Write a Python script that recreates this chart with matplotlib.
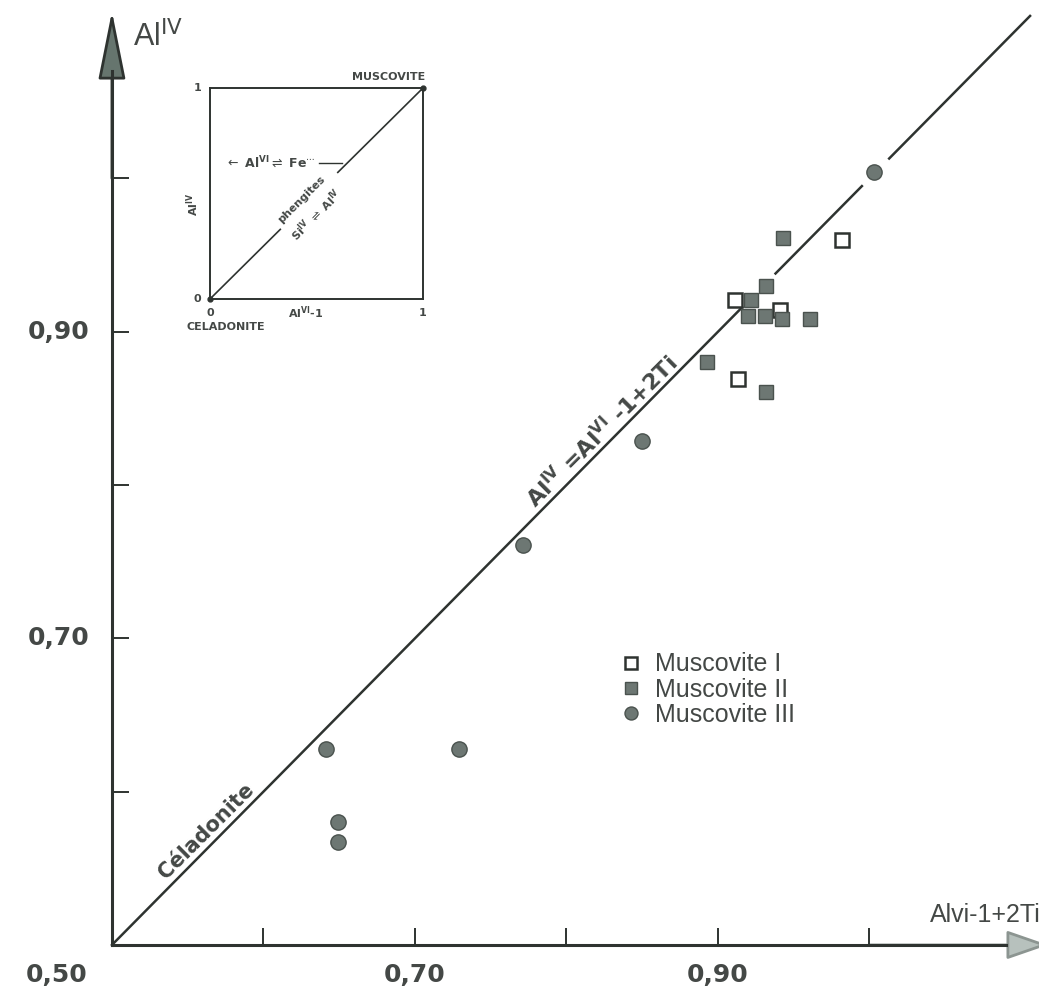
import numpy as np
import matplotlib
matplotlib.use("Agg")
import matplotlib.pyplot as plt
from matplotlib.patches import FancyArrowPatch

plt.rcParams['mathtext.fontset'] = 'dejavusans'

# Muscovite I (open squares)
mus1_x = [0.982, 0.911, 0.941, 0.913]
mus1_y = [0.960, 0.921, 0.914, 0.869]

# Muscovite II (filled squares)
mus2_x = [0.943, 0.932, 0.922, 0.920, 0.931, 0.942, 0.961, 0.893, 0.932]
mus2_y = [0.961, 0.930, 0.921, 0.910, 0.910, 0.908, 0.908, 0.880, 0.861]

# Muscovite III (circles)
mus3_x = [1.003, 0.850, 0.771, 0.641, 0.729, 0.649, 0.649]
mus3_y = [1.004, 0.829, 0.761, 0.628, 0.628, 0.580, 0.567]

series_labels = ["Muscovite I", "Muscovite II", "Muscovite III"]
x_ticks = [0.6, 0.7, 0.8, 0.9, 1.0]
y_ticks = [0.6, 0.7, 0.8, 0.9, 1.0]
x_ticklabels = {0.5: "0,50", 0.7: "0,70", 0.9: "0,90"}
y_ticklabels = {0.7: "0,70", 0.9: "0,90"}

INK = '#2e3330'
TXT = '#444846'
GREY = '#6d7773'

fig = plt.figure(figsize=(10.39, 9.94), dpi=100)
ax = fig.add_axes([0, 0, 1, 1])
ax.set_xlim(0.4261, 1.1119)
ax.set_ylim(0.468, 1.1164)

# axes drawn as spines crossing at (0.5, 0.5)
for s in ['top', 'right']:
    ax.spines[s].set_visible(False)
ax.spines['left'].set_position(('data', 0.5))
ax.spines['bottom'].set_position(('data', 0.5))
ax.spines['left'].set_bounds(0.5, 1.07)
ax.spines['bottom'].set_bounds(0.5, 1.09)
for s in ['left', 'bottom']:
    ax.spines[s].set_linewidth(2.2)
    ax.spines[s].set_color(INK)
ax.set_xticks(x_ticks)
ax.set_yticks(y_ticks)
ax.tick_params(direction='in', length=12, width=1.4, color=INK,
               labelbottom=False, labelleft=False)

# arrow heads
ax.add_patch(FancyArrowPatch((0.5, 1.0), (0.5, 1.109),
                             arrowstyle='-|>,head_length=43,head_width=8.6',
                             mutation_scale=1, fc='#66756e', ec=INK, lw=2.0,
                             shrinkA=0, shrinkB=0))
ax.add_patch(FancyArrowPatch((1.0, 0.5), (1.118, 0.5),
                             arrowstyle='-|>,head_length=26,head_width=9',
                             mutation_scale=1, fc='#b7c1bd', ec='#8c9591', lw=2.0,
                             shrinkA=0, shrinkB=0, clip_on=False))

# tick labels
for v, s in x_ticklabels.items():
    xpos = 0.4637 if v == 0.5 else v
    ax.text(xpos, 0.4804, s, ha='center', va='center', fontsize=18,
            fontweight='bold', color=TXT)
for v, s in y_ticklabels.items():
    ax.text(0.465, v, s, ha='center', va='center', fontsize=18,
            fontweight='bold', color=TXT)

# axis titles
ax.text(0.514, 1.086, r'Al$^{\mathrm{IV}}$', fontsize=22, color=TXT,
        family='Liberation Sans', va='baseline')
ax.text(1.040, 0.5196, 'Alvi-1+2Ti', fontsize=18, color=TXT,
        family='Liberation Sans', va='center', ha='left')

# 1:1 line (with gaps as in original drawing)
line_x = np.array([0.5, 0.916, np.nan, 0.938, 0.995, np.nan, 1.013, 1.106])
ax.plot(line_x, line_x, color=INK, lw=1.8, zorder=2)

ax.text(0.823, 0.835, r'Al$^{\mathbf{IV}}$ =Al$^{\mathbf{VI}}$ -1+2Ti',
        rotation=45, rotation_mode='anchor', ha='center', va='center',
        fontsize=16, fontweight='bold', color=TXT)
ax.text(0.562, 0.574, 'Céladonite', rotation=45, rotation_mode='anchor',
        ha='center', va='center', fontsize=15, fontweight='bold', color=TXT)

# data points
ax.plot(mus1_x, mus1_y, 's', ms=9.5, mfc='white', mec=INK, mew=1.8,
        label=series_labels[0], zorder=3)
ax.plot(mus2_x, mus2_y, 's', ms=9.5, mfc=GREY, mec='#4a524e', mew=1.0,
        label=series_labels[1], zorder=4)
ax.plot(mus3_x, mus3_y, 'o', ms=11, mfc=GREY, mec='#4a524e', mew=1.0,
        label=series_labels[2], zorder=4)

leg = ax.legend(loc='upper left', bbox_to_anchor=(0.8272, 0.699),
                bbox_transform=ax.transData, frameon=False, borderpad=0,
                handletextpad=0.5, labelspacing=0.05, handlelength=0.9,
                markerscale=0.85, prop={'family': 'Liberation Sans', 'size': 18})
for t in leg.get_texts():
    t.set_color(TXT)

# inset schematic
iax = fig.add_axes([210 / 1039, 1 - 299 / 994, 213 / 1039, 211 / 994])
iax.set_xlim(0, 1)
iax.set_ylim(0, 1)
iax.set_xticks([])
iax.set_yticks([])
for s in iax.spines.values():
    s.set_linewidth(1.4)
    s.set_color(INK)
diag = np.array([0.0, 0.33, np.nan, 0.60, 1.0])
iax.plot(diag, diag, color=INK, lw=1.2)
iax.plot([0, 1], [0, 1], 'o', ms=3.5, color=INK, clip_on=False)

small = dict(fontsize=8, fontweight='bold', color=TXT, clip_on=False)
iax.text(1.01, 1.05, 'MUSCOVITE', ha='right', va='center', **small)
iax.text(-0.04, 1.0, '1', ha='right', va='center', **small)
iax.text(-0.04, 0.0, '0', ha='right', va='center', **small)
iax.text(0.0, -0.065, '0', ha='center', va='center', **small)
iax.text(1.0, -0.065, '1', ha='center', va='center', **small)
iax.text(0.45, -0.065, r'Al$^{\mathbf{VI}}$-1', ha='center', va='center', **small)
iax.text(-0.11, -0.135, 'CELADONITE', ha='left', va='center', **small)
iax.text(-0.08, 0.45, r'Al$^{\mathbf{IV}}$', ha='center', va='center',
         rotation=90, **small)
iax.text(0.07, 0.645, r'$\leftarrow$ Al$^{\mathbf{VI}}$$\rightleftharpoons$ Fe$^{\cdots}$',
         ha='left', va='center', fontsize=9, fontweight='bold', color=TXT,
         clip_on=False)
iax.plot([0.51, 0.62], [0.645, 0.645], color=INK, lw=1.0)
iax.text(0.43, 0.47, 'phengites', rotation=45, rotation_mode='anchor',
         ha='center', va='center', **small)
iax.text(0.50, 0.40, r'Si$^{\mathbf{IV}}$ $\rightleftharpoons$ Al$^{\mathbf{IV}}$',
         rotation=45, rotation_mode='anchor', ha='center', va='center', **small)

fig.savefig('out.png', dpi=100, facecolor='white')
